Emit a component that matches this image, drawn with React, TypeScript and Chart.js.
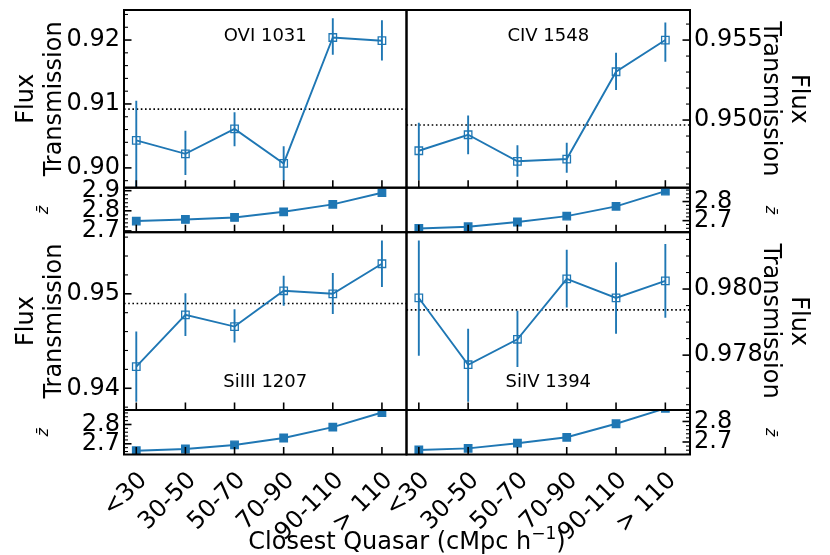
import { useEffect, useRef } from 'react'
import { Chart, registerables } from 'chart.js'

Chart.register(...registerables)

const BLUE = '#1f77b4'
const FONT = 'DejaVu Sans'
const W = 830
const H = 555

// bin labels along the x axis
const categories = ['<30', '30-50', '50-70', '70-90', '90-110', '> 110']
const binIndex = [0, 1, 2, 3, 4, 5]

// OVI 1031
const oviFlux = [0.9043, 0.9022, 0.9061, 0.9007, 0.9204, 0.9199]
const oviLow = [0.8962, 0.8989, 0.9034, 0.898, 0.9177, 0.9168]
const oviHigh = [0.9105, 0.9058, 0.9087, 0.9034, 0.9234, 0.9231]
const oviMean = 0.9092
const oviZ = [2.749, 2.757, 2.767, 2.795, 2.832, 2.89]

// CIV 1548
const civFlux = [0.94808, 0.94908, 0.94742, 0.94756, 0.95302, 0.955]
const civLow = [0.94625, 0.94786, 0.94646, 0.94671, 0.95188, 0.95364]
const civHigh = [0.94983, 0.95029, 0.94842, 0.94858, 0.95421, 0.9561]
const civMean = 0.94969
const civZ = [2.659, 2.668, 2.693, 2.724, 2.775, 2.855]

// SiIII 1207
const si3Flux = [0.94229, 0.94777, 0.94653, 0.95032, 0.95, 0.95318]
const si3Low = [0.93857, 0.94552, 0.94484, 0.94873, 0.94785, 0.95071]
const si3High = [0.94601, 0.95007, 0.94837, 0.95191, 0.9522, 0.95565]
const si3Mean = 0.94897
const si3Z = [2.664, 2.673, 2.694, 2.73, 2.786, 2.862]

// SiIV 1394
const si4Flux = [0.97973, 0.97771, 0.97848, 0.98031, 0.97973, 0.98025]
const si4Low = [0.97798, 0.97659, 0.97764, 0.97944, 0.97865, 0.97913]
const si4High = [0.98147, 0.9788, 0.97934, 0.98119, 0.98081, 0.98136]
const si4Mean = 0.97937
const si4Z = [2.661, 2.669, 2.694, 2.723, 2.789, 2.864]

// panel grid (px)
const COL = [124, 406.5, 690]
const ROW = [10, 187.7, 232.2, 410, 454.5]

const panelDecor = {
  id: 'panelDecor',
  beforeDatasetsDraw(chart: any, _a: any, o: any) {
    const { ctx, chartArea: a } = chart
    const x = chart.scales.x
    const y = chart.scales.y
    ctx.save()
    ctx.beginPath()
    ctx.rect(a.left, a.top, a.right - a.left, a.bottom - a.top)
    ctx.clip()
    if (o.mean != null) {
      const py = y.getPixelForValue(o.mean)
      ctx.strokeStyle = '#000'
      ctx.lineWidth = 1.6
      ctx.setLineDash([1.6, 2.6])
      ctx.beginPath()
      ctx.moveTo(a.left, py)
      ctx.lineTo(a.right, py)
      ctx.stroke()
      ctx.setLineDash([])
    }
    if (o.low && o.high) {
      ctx.strokeStyle = BLUE
      ctx.lineWidth = 1.9
      o.low.forEach((lo: number, i: number) => {
        const px = x.getPixelForValue(binIndex[i])
        ctx.beginPath()
        ctx.moveTo(px, y.getPixelForValue(lo))
        ctx.lineTo(px, y.getPixelForValue(o.high[i]))
        ctx.stroke()
      })
    }
    ctx.restore()
  },
  afterDatasetsDraw(chart: any, _a: any, o: any) {
    const { ctx, chartArea: a } = chart
    const x = chart.scales.x
    const y = chart.scales.y
    const seg = (x1: number, y1: number, x2: number, y2: number) => {
      ctx.beginPath()
      ctx.moveTo(x1, y1)
      ctx.lineTo(x2, y2)
      ctx.stroke()
    }
    ctx.save()
    ctx.strokeStyle = '#000'
    ctx.lineWidth = 1.6
    binIndex.forEach(i => {
      const px = x.getPixelForValue(i)
      seg(px, a.bottom, px, a.bottom - 7.5)
    })
    const edge = o.side === 'right' ? a.right : a.left
    const dir = o.side === 'right' ? -1 : 1
    const step = o.minorStep
    for (let k = Math.ceil(y.min / step); k <= Math.floor(y.max / step); k++) {
      const v = k * step
      const major = o.majors.some((m: number) => Math.abs(m - v) < step / 10)
      const py = y.getPixelForValue(v)
      ctx.lineWidth = major ? 1.6 : 1.1
      seg(edge, py, edge + dir * (major ? 7.5 : 4), py)
    }
    ctx.lineWidth = 2
    ctx.strokeRect(a.left, a.top, a.right - a.left, a.bottom - a.top)
    if (o.label) {
      ctx.fillStyle = '#000'
      ctx.font = `18px "${FONT}"`
      ctx.textAlign = 'center'
      ctx.textBaseline = 'middle'
      const ly = o.labelAt === 'bottom' ? a.bottom - 27.5 : a.top + 26
      ctx.fillText(o.label, (a.left + a.right) / 2, ly)
    }
    ctx.restore()
  },
}

Chart.register(panelDecor)

type PanelProps = {
  col: 0 | 1
  row: 0 | 1 | 2 | 3
  yMin: number
  yMax: number
  majors: number[]
  decimals: number
  minorStep: number
  values: number[]
  low?: number[]
  high?: number[]
  mean?: number
  label?: string
  labelAt?: 'top' | 'bottom'
  filled?: boolean
  title: string | string[]
  titleSize: number
  titleItalic?: boolean
  titlePad: number
  showX?: boolean
}

const Panel = (p: PanelProps) => {
  const canvasRef = useRef<HTMLCanvasElement>(null)

  useEffect(() => {
    if (!canvasRef.current) return
    const side = p.col === 0 ? 'left' : 'right'
    const top = ROW[p.row]
    const bottom = ROW[p.row + 1]
    const pad = {
      left: p.col === 0 ? 0 : COL[1],
      right: p.col === 0 ? W - COL[1] : 0,
      top,
      bottom: p.showX ? 0 : H - bottom,
    }
    const tickFont = { family: FONT, size: 24 }

    const chart = new Chart(canvasRef.current, {
      type: 'line',
      data: {
        datasets: [{
          data: p.values.map((v, i) => ({ x: binIndex[i], y: v })),
          borderColor: BLUE,
          borderWidth: 1.9,
          pointStyle: 'rect',
          pointRadius: 5.3,
          pointBorderWidth: 1.3,
          pointBorderColor: BLUE,
          pointBackgroundColor: p.filled ? BLUE : 'rgba(0,0,0,0)',
          tension: 0,
          clip: 0,
        }],
      },
      options: {
        animation: false,
        responsive: false,
        events: [],
        layout: { padding: pad },
        scales: {
          x: {
            type: 'linear',
            min: -0.25,
            max: 5.5,
            display: !!p.showX,
            afterBuildTicks: (s: any) => { s.ticks = binIndex.map(v => ({ value: v })) },
            afterFit: (s: any) => {
              if (p.showX) s.height = H - bottom
              s.paddingLeft = 0
              s.paddingRight = 0
            },
            grid: { display: false, drawTicks: false },
            border: { display: false },
            ticks: {
              font: tickFont,
              color: '#000',
              padding: 12,
              labelOffset: 7,
              autoSkip: false,
              minRotation: 45,
              maxRotation: 45,
              callback: (v: any) => categories[Number(v)],
            },
          },
          y: {
            type: 'linear',
            position: side,
            min: p.yMin,
            max: p.yMax,
            afterBuildTicks: (s: any) => { s.ticks = p.majors.map(v => ({ value: v })) },
            afterFit: (s: any) => {
              s.width = side === 'left' ? COL[0] : W - COL[2]
              s.paddingTop = 0
              s.paddingBottom = 0
            },
            grid: { display: false, drawTicks: false },
            border: { display: false },
            ticks: {
              font: tickFont,
              color: '#000',
              padding: 4,
              autoSkip: false,
              callback: (v: any) => Number(v).toFixed(p.decimals),
            },
            title: {
              display: true,
              text: p.title,
              color: '#000',
              font: { family: FONT, size: p.titleSize, lineHeight: 1.15, style: p.titleItalic ? 'italic' : 'normal' },
              padding: { top: p.titlePad, bottom: 0 },
            },
          },
        },
        plugins: {
          legend: { display: false },
          tooltip: { enabled: false },
          panelDecor: {
            side,
            majors: p.majors,
            minorStep: p.minorStep,
            mean: p.mean,
            low: p.low,
            high: p.high,
            label: p.label,
            labelAt: p.labelAt,
          },
        } as any,
      },
    })

    return () => chart.destroy()
  }, [])

  return (
    <canvas
      ref={canvasRef}
      width={W}
      height={H}
      style={{ position: 'absolute', left: 0, top: 0, width: W, height: H }}
    />
  )
}

const fluxTitle = ['Flux', 'Transmission']
const zTitle = 'z\u0304'

const App = () => {
  return (
    <div style={{ position: 'absolute', left: 0, top: 0, width: W, height: H, background: '#fff', overflow: 'hidden' }}>
      <Panel col={0} row={0} yMin={0.8969} yMax={0.9247} majors={[0.9, 0.91, 0.92]} decimals={2} minorStep={0.002}
        values={oviFlux} low={oviLow} high={oviHigh} mean={oviMean} label="OVI 1031" labelAt="top"
        title={fluxTitle} titleSize={24} titlePad={13} />
      <Panel col={0} row={1} yMin={2.6935} yMax={2.915} majors={[2.7, 2.8, 2.9]} decimals={1} minorStep={0.02}
        values={oviZ} filled title={zTitle} titleSize={16} titleItalic titlePad={35} />
      <Panel col={1} row={0} yMin={0.94577} yMax={0.95688} majors={[0.95, 0.955]} decimals={3} minorStep={0.001}
        values={civFlux} low={civLow} high={civHigh} mean={civMean} label="CIV 1548" labelAt="top"
        title={fluxTitle} titleSize={24} titlePad={18} />
      <Panel col={1} row={1} yMin={2.6395} yMax={2.8726} majors={[2.7, 2.8]} decimals={1} minorStep={0.02}
        values={civZ} filled title={zTitle} titleSize={16} titleItalic titlePad={51} />
      <Panel col={0} row={2} yMin={0.9377} yMax={0.95652} majors={[0.94, 0.95]} decimals={2} minorStep={0.002}
        values={si3Flux} low={si3Low} high={si3High} mean={si3Mean} label="SiIII 1207" labelAt="bottom"
        title={fluxTitle} titleSize={24} titlePad={13} />
      <Panel col={0} row={3} yMin={2.6446} yMax={2.875} majors={[2.7, 2.8]} decimals={1} minorStep={0.02}
        values={si3Z} filled title={zTitle} titleSize={16} titleItalic titlePad={35} showX />
      <Panel col={1} row={2} yMin={0.97634} yMax={0.98172} majors={[0.978, 0.98]} decimals={3} minorStep={0.0005}
        values={si4Flux} low={si4Low} high={si4High} mean={si4Mean} label="SiIV 1394" labelAt="bottom"
        title={fluxTitle} titleSize={24} titlePad={18} />
      <Panel col={1} row={3} yMin={2.639} yMax={2.856} majors={[2.7, 2.8]} decimals={1} minorStep={0.02}
        values={si4Z} filled title={zTitle} titleSize={16} titleItalic titlePad={51} showX />
      <div style={{
        position: 'absolute', left: 407, top: 527, transform: 'translateX(-50%)', whiteSpace: 'nowrap',
        fontFamily: FONT, fontSize: 24, lineHeight: '28px', color: '#000',
      }}>
        Closest Quasar (cMpc h<span style={{ fontSize: 17, position: 'relative', top: -10 }}>{'\u22121'}</span>)
      </div>
    </div>
  )
}

export default App
